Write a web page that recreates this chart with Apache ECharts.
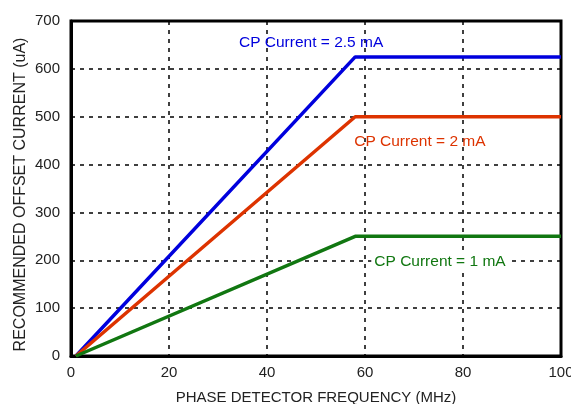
<!DOCTYPE html>
<html>
<head>
<meta charset="utf-8">
<script src="https://cdn.jsdelivr.net/npm/echarts@6/dist/echarts.min.js"></script>
<style>
    html, body { margin: 0; padding: 0; background: #fff; }
    #chart_line { width: 571px; height: 404px; }
</style>
</head>
<body>
<div id="chart_line"></div>
<script>
    // phase detector frequency breakpoints (MHz)
    var freq = [1, 58, 100];
    var cp25 = [0, 625, 625];
    var cp2 = [0, 500, 500];
    var cp1 = [0, 250, 250];
    // label anchors [x, y] in data units
    var labelNames = ['CP Current = 2.5 mA', 'CP Current = 2 mA', 'CP Current = 1 mA'];
    var labelPos = [[49, 654], [71.2, 448], [75.3, 198]];

    function pairs(ys) {
        return freq.map(function (f, i) { return [f, ys[i]]; });
    }

    function mkSeries(name, ys, color, idx, bg) {
        return {
            name: name,
            type: 'line',
            data: pairs(ys),
            symbol: 'none',
            lineStyle: { color: color, width: 3.5 },
            markPoint: {
                symbol: 'circle',
                symbolSize: 0,
                silent: true,
                itemStyle: { color: 'transparent' },
                label: {
                    show: true,
                    position: 'inside',
                    formatter: labelNames[idx],
                    color: color,
                    fontSize: 15.5,
                    fontFamily: 'Liberation Sans',
                    backgroundColor: bg ? '#fff' : 'transparent',
                    padding: [0, 3]
                },
                data: [{ coord: labelPos[idx] }]
            }
        };
    }

    var myChart = echarts.init(document.getElementById('chart_line'));
    var option = {
        animation: false,
        textStyle: { fontFamily: 'Liberation Sans' },
        grid: {
            left: 71, right: 10, top: 21, bottom: 48,
            outerBoundsMode: 'none',
            containLabel: false,
            show: true,
            borderColor: '#000',
            borderWidth: 3
        },
        xAxis: {
            type: 'value',
            min: 0, max: 100, interval: 20,
            name: 'PHASE DETECTOR FREQUENCY (MHz)',
            nameLocation: 'middle',
            nameGap: 34,
            nameMoveOverlap: false,
            nameTextStyle: { color: '#222', fontSize: 15 },
            axisLine: { show: true, lineStyle: { color: '#000', width: 3 } },
            axisTick: { show: false },
            axisLabel: { color: '#222', fontSize: 15, margin: 9 },
            splitLine: { lineStyle: { color: '#000', width: 1.5, type: [4, 5] } }
        },
        yAxis: {
            type: 'value',
            min: 0, max: 700, interval: 100,
            name: 'RECOMMENDED OFFSET CURRENT (uA)',
            nameLocation: 'middle',
            nameGap: 42,
            nameMoveOverlap: false,
            nameTextStyle: { color: '#222', fontSize: 16, padding: [0, 12, 0, 0] },
            axisLine: { show: true, lineStyle: { color: '#000', width: 3 } },
            axisTick: { show: false },
            axisLabel: { color: '#222', fontSize: 15, margin: 11 },
            splitLine: { lineStyle: { color: '#000', width: 1.5, type: [4, 5] } }
        },
        series: [
            mkSeries('2.5 mA', cp25, '#0000dd', 0, false),
            mkSeries('2 mA', cp2, '#dd3300', 1, false),
            mkSeries('1 mA', cp1, '#117711', 2, true)
        ]
    };
    myChart.setOption(option);
</script>
</body>
</html>
